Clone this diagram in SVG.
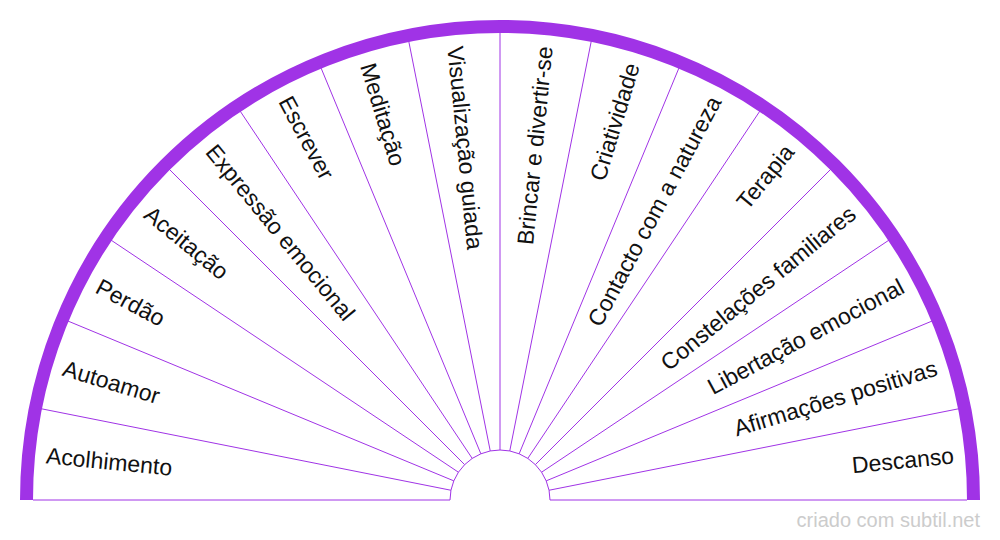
<svg xmlns="http://www.w3.org/2000/svg" width="1000" height="540" viewBox="0 0 1000 540">
<style>
.sp{stroke:#a033e6;stroke-width:1;fill:none}
.band{stroke:#a033e6;stroke-width:13;fill:none}
.lbl{font-family:"Liberation Sans",Arial,sans-serif;font-size:23px;fill:#111;dominant-baseline:central}
.l{text-anchor:start}
.r{text-anchor:end}
.wm{font-family:"Liberation Sans",Arial,sans-serif;font-size:20px;fill:#cccccc;text-anchor:end}
</style>
<rect width="1000" height="540" fill="#fff"/>
<g id="connectors">
<path class="sp" d="M33,500H450M550,500H967"/>
<path class="sp" d="M450,500A50,50 0 0 1 550,500"/>
<path class="sp" d="M450.96,490.25L36.09,407.72M453.81,480.87L63,318.99M458.43,472.22L106.71,237.22M464.64,464.64L165.54,165.54M472.22,458.43L237.22,106.71M480.87,453.81L318.99,63M490.25,450.96L407.72,36.09M500,450L500,27M509.75,450.96L592.28,36.09M519.13,453.81L681.01,63M527.78,458.43L762.78,106.71M535.36,464.64L834.46,165.54M541.57,472.22L893.29,237.22M546.19,480.87L937,318.99M549.04,490.25L963.91,407.72"/>
<path class="band" d="M26.5,500A473.5,473.5 0 0 1 973.5,500"/>
</g>
<g id="n0"><text class="lbl l" x="46.2" y="455.3" transform="rotate(5.625 46.2 455.3)">Acolhimento</text></g>
<g id="n1"><text class="lbl l" x="63.64" y="367.63" transform="rotate(16.875 63.64 367.63)">Autoamor</text></g>
<g id="n2"><text class="lbl l" x="97.84" y="285.04" transform="rotate(28.125 97.84 285.04)">Perdão</text></g>
<g id="n3"><text class="lbl l" x="147.51" y="210.72" transform="rotate(39.375 147.51 210.72)">Aceitação</text></g>
<g id="n4"><text class="lbl l" x="210.72" y="147.51" transform="rotate(50.625 210.72 147.51)">Expressão emocional</text></g>
<g id="n5"><text class="lbl l" x="285.04" y="97.84" transform="rotate(61.875 285.04 97.84)">Escrever</text></g>
<g id="n6"><text class="lbl l" x="367.63" y="63.64" transform="rotate(73.125 367.63 63.64)">Meditação</text></g>
<g id="n7"><text class="lbl l" x="455.3" y="46.2" transform="rotate(84.375 455.3 46.2)">Visualização guiada</text></g>
<g id="n8"><text class="lbl r" x="544.7" y="46.2" transform="rotate(-84.375 544.7 46.2)">Brincar e divertir-se</text></g>
<g id="n9"><text class="lbl r" x="632.37" y="63.64" transform="rotate(-73.125 632.37 63.64)">Criatividade</text></g>
<g id="n10"><text class="lbl r" x="714.96" y="97.84" transform="rotate(-61.875 714.96 97.84)">Contacto com a natureza</text></g>
<g id="n11"><text class="lbl r" x="789.28" y="147.51" transform="rotate(-50.625 789.28 147.51)">Terapia</text></g>
<g id="n12"><text class="lbl r" x="852.49" y="210.72" transform="rotate(-39.375 852.49 210.72)">Constelações familiares</text></g>
<g id="n13"><text class="lbl r" x="902.16" y="285.04" transform="rotate(-28.125 902.16 285.04)">Libertação emocional</text></g>
<g id="n14"><text class="lbl r" x="936.36" y="367.63" transform="rotate(-16.875 936.36 367.63)">Afirmações positivas</text></g>
<g id="n15"><text class="lbl r" x="953.8" y="455.3" transform="rotate(-5.625 953.8 455.3)">Descanso</text></g>
<text class="wm" x="980" y="527">criado com subtil.net</text>
</svg>
